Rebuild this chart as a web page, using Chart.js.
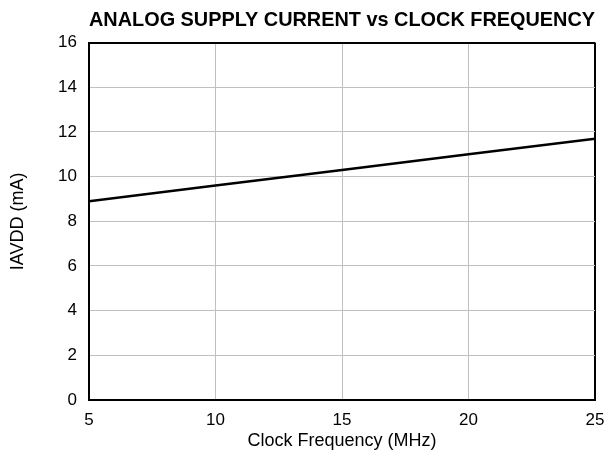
<!DOCTYPE html>
<html>
<head>
<meta charset="utf-8">
<script src="https://cdn.jsdelivr.net/npm/chart.js@4/dist/chart.umd.min.js"></script>
<style>
  html, body { margin: 0; padding: 0; background: #fff; }
  #wrap { width: 609px; height: 456px; }
</style>
</head>
<body>
<div id="wrap"><canvas id="supplyChart" width="609" height="456"></canvas></div>
<script>
// Analog supply current against clock frequency
const clockFreqMHz = [5, 10, 15, 20, 25];
const iavddMA = [8.9, 9.6, 10.3, 11.0, 11.7];
const yTicks = [0, 2, 4, 6, 8, 10, 12, 14, 16];
const xTicks = [5, 10, 15, 20, 25];

const points = clockFreqMHz.map((f, i) => ({ x: f, y: iavddMA[i] }));
const family = 'Liberation Sans, Arial, sans-serif';
const tickFont = { family: family, size: 17 };
const titleFont = { family: family, size: 18 };

// frame edges (top and right grid lines) drawn black like the axes
const frameColor = (edge) => (c) => c.tick && c.tick.value === edge ? '#000' : '#c0c0c0';
const frameWidth = (edge) => (c) => c.tick && c.tick.value === edge ? 2 : 1;

const ctx = document.getElementById('supplyChart').getContext('2d');
new Chart(ctx, {
    type: 'scatter',
    data: {
        datasets: [{
            data: points,
            showLine: true,
            borderColor: '#000',
            borderWidth: 2.5,
            pointRadius: 0,
            tension: 0
        }]
    },
    options: {
        responsive: false,
        animation: false,
        layout: { padding: { left: 0, right: 14, top: 0, bottom: 0 } },
        plugins: {
            legend: { display: false },
            tooltip: { enabled: false },
            title: {
                display: true,
                fullSize: false,
                text: 'ANALOG SUPPLY CURRENT vs CLOCK FREQUENCY',
                color: '#000',
                font: { family: family, size: 20.5, weight: 'bold' },
                padding: { top: 8, bottom: 10 }
            }
        },
        scales: {
            x: {
                type: 'linear',
                min: 5,
                max: 25,
                afterBuildTicks: (s) => { s.ticks = xTicks.map(v => ({ value: v })); },
                afterFit: (s) => { s.height = 56; s.paddingLeft = 0; s.paddingRight = 0; },
                border: { color: '#000', width: 2 },
                grid: { color: frameColor(25), lineWidth: frameWidth(25), drawTicks: false },
                ticks: { color: '#000', font: tickFont, padding: 10, maxRotation: 0 },
                title: { display: true, text: 'Clock Frequency (MHz)', color: '#000', font: titleFont, padding: { bottom: 4 } }
            },
            y: {
                min: 0,
                max: 16,
                afterBuildTicks: (s) => { s.ticks = yTicks.map(v => ({ value: v })); },
                afterFit: (s) => { s.width = 89; },
                border: { color: '#000', width: 2 },
                grid: { color: frameColor(16), lineWidth: frameWidth(16), drawTicks: false },
                ticks: { color: '#000', font: tickFont, padding: 12 },
                title: { display: true, text: 'IAVDD (mA)', color: '#000', font: titleFont, padding: { top: 7 } }
            }
        }
    }
});
</script>
</body>
</html>
